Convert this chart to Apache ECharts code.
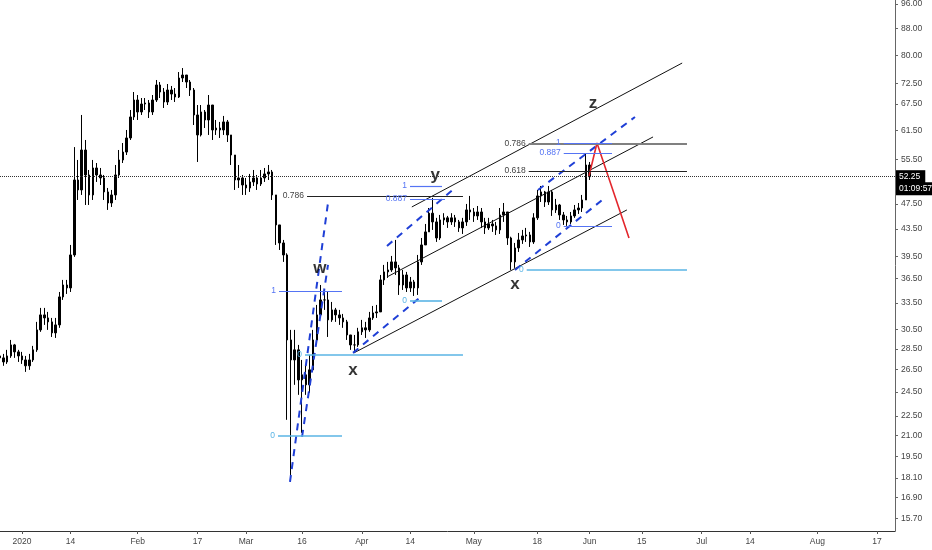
<!DOCTYPE html>
<html>
<head>
<meta charset="utf-8">
<title>chart</title>
<script src="https://cdn.jsdelivr.net/npm/echarts@6.0.0/dist/echarts.min.js"></script>
<style>
    html, body { margin: 0; padding: 0; background: #fff; }
    #chart { width: 932px; height: 550px; }
</style>
</head>
<body>
<div id="chart"></div>
<script>
// daily bars, the first one is 2019-12-26, open of a bar = close of the bar before
const firstDay = [2019, 11, 26]
const firstOpen = 27.80

const closes = [
    27.61, 27.22, 27.80, 28.90, 28.20, 27.80,
    27.41, 26.85, 27.41, 28.40, 30.47, 32.12, 31.78, 31.34, 30.15, 31.01,
    34.22, 35.69, 35.32, 39.67, 51.65, 49.87, 57.40, 52.57, 49.00, 53.88,
    52.57, 52.02, 49.52, 47.63, 49.00, 52.57, 55.42, 56.99, 59.88, 64.48,
    68.45, 65.62, 67.49, 67.73, 65.62, 68.45, 72.16, 70.40, 67.97, 70.90,
    69.90, 69.17, 73.96, 74.74, 72.92, 70.90, 64.93, 60.52, 65.62, 63.80,
    67.25, 61.59, 62.02, 61.59, 63.36, 60.52, 56.40, 51.65, 52.02, 50.75,
    50.22, 51.29, 52.02, 50.93, 52.02, 52.76, 53.13, 49.00, 44.09, 41.38,
    39.67, 29.41, 27.41, 28.40, 25.55, 26.01, 25.11, 26.47, 29.41, 32.12,
    33.86, 33.86, 31.56, 32.69, 32.12, 31.78, 31.34, 29.93, 28.90, 28.90,
    30.26, 30.69, 30.47, 31.78, 32.35, 32.46, 36.33, 37.37, 37.63, 38.71,
    37.90, 35.69, 36.97, 35.32, 36.07, 35.32, 38.71, 41.09, 43.02, 45.95,
    44.56, 42.11, 44.87, 45.20, 44.56, 45.20, 44.56, 43.63, 44.56, 46.48,
    46.15, 45.51, 46.15, 44.56, 43.63, 44.24, 43.94, 43.32, 45.67, 46.15,
    42.11, 38.71, 40.66, 41.82, 42.41, 42.56, 41.53, 45.20, 48.83, 49.52,
    47.80, 49.52, 46.48, 47.30, 45.67, 44.87, 44.56, 45.51, 46.48, 46.80,
    48.14, 54.45, 52.25
]

const highs = [
    28.40, 28.00, 28.40, 29.41, 29.00, 28.40,
    28.20, 27.80, 28.00, 28.80, 31.34, 32.92, 32.92, 32.46, 31.78, 31.78,
    34.82, 36.33, 36.33, 41.09, 57.99, 55.42, 64.93, 59.46, 53.50, 55.42,
    54.83, 53.88, 52.57, 50.22, 49.87, 54.45, 57.40, 58.83, 61.59, 66.08,
    70.40, 69.66, 68.93, 68.93, 68.45, 69.66, 73.44, 72.92, 71.40, 72.41,
    71.91, 71.40, 75.53, 76.60, 74.74, 73.44, 71.40, 67.25, 67.25, 66.08,
    69.66, 67.25, 63.80, 63.36, 64.71, 63.80, 60.52, 56.40, 54.45, 52.57,
    52.02, 52.76, 53.50, 52.57, 53.50, 53.88, 54.45, 53.50, 49.00, 44.09,
    41.82, 39.90, 30.47, 30.47, 28.90, 27.41, 26.94, 27.90, 30.47, 33.27,
    35.69, 35.07, 34.82, 33.62, 32.92, 32.69, 32.23, 31.56, 29.93, 29.93,
    30.69, 31.56, 31.34, 32.46, 33.15, 33.27, 36.97, 38.30, 38.71, 39.53,
    41.82, 38.30, 37.63, 37.37, 36.71, 36.33, 39.67, 42.11, 44.24, 46.80,
    48.49, 45.20, 45.67, 45.95, 45.51, 45.95, 45.67, 44.87, 45.20, 47.47,
    48.83, 46.80, 47.13, 46.80, 45.20, 45.20, 44.87, 44.56, 46.80, 47.63,
    46.15, 42.30, 41.38, 42.86, 43.32, 43.63, 43.02, 45.95, 49.87, 50.57,
    49.70, 50.57, 49.87, 48.32, 47.47, 46.15, 45.51, 46.15, 47.30, 47.63,
    49.00, 56.79, 55.03
]

const lows = [
    27.22, 26.85, 27.03, 27.61, 27.61, 27.22,
    27.03, 26.28, 26.47, 27.22, 28.20, 30.26, 31.01, 30.47, 29.72, 29.62,
    30.69, 33.86, 34.58, 34.82, 39.40, 48.14, 49.00, 47.30, 47.30, 48.14,
    51.29, 50.75, 48.14, 46.48, 46.97, 48.14, 52.02, 54.83, 56.40, 59.46,
    63.80, 63.80, 64.93, 66.08, 64.24, 64.93, 67.97, 68.93, 66.55, 67.25,
    68.45, 67.97, 68.93, 72.92, 71.40, 69.42, 62.68, 55.03, 60.20, 62.02,
    60.52, 59.46, 60.52, 59.88, 60.52, 59.04, 54.45, 49.87, 50.22, 49.00,
    49.00, 49.52, 50.57, 49.87, 50.57, 51.29, 51.65, 48.14, 41.09, 40.37,
    38.71, 22.20, 17.84, 25.11, 24.24, 21.21, 24.24, 24.41, 26.28, 28.90,
    31.78, 32.69, 29.72, 31.34, 31.34, 31.01, 30.69, 29.41, 28.40, 28.20,
    28.70, 29.93, 29.62, 30.26, 31.56, 31.78, 32.46, 35.69, 36.59, 37.37,
    36.97, 34.46, 35.07, 34.82, 34.82, 34.34, 34.46, 38.30, 41.09, 43.02,
    43.32, 41.53, 41.82, 44.09, 43.63, 44.09, 43.78, 43.02, 42.71, 43.94,
    44.87, 44.56, 44.87, 43.63, 42.71, 43.32, 43.02, 42.56, 42.71, 44.56,
    41.09, 37.63, 37.90, 40.09, 41.24, 41.53, 40.80, 41.24, 44.87, 47.80,
    46.97, 47.30, 45.51, 45.99, 44.87, 44.09, 43.94, 44.24, 45.20, 45.83,
    46.15, 48.14, 51.65
]

const priceTicks = [96, 88, 80, 72.5, 67.5, 61.5, 55.5, 47.5, 43.5, 39.5, 36.5, 33.5,
    30.5, 28.5, 26.5, 24.5, 22.5, 21, 19.5, 18.1, 16.9, 15.7]
const dateTicks = ['2020-01-01', '2020-01-14', '2020-02-01', '2020-02-17', '2020-03-01',
    '2020-03-16', '2020-04-01', '2020-04-14', '2020-05-01', '2020-05-18', '2020-06-01',
    '2020-06-15', '2020-07-01', '2020-07-14', '2020-08-01', '2020-08-17']
const monthNames = ['Jan', 'Feb', 'Mar', 'Apr', 'May', 'Jun', 'Jul', 'Aug', 'Sep', 'Oct', 'Nov', 'Dec']

const lastPrice = 52.25
const countdown = '01:09:57'

// drawings
const channelLines = [
    [['2020-03-29 21:36', 28.10], ['2020-06-11 00:00', 46.48]],
    [['2020-04-07 18:00', 36.71], ['2020-06-18 00:00', 60.10]],
    [['2020-04-14 09:36', 46.97], ['2020-06-25 19:12', 77.96]]
]
const blueDashed = [
    [['2020-03-12 18:30', 17.84], ['2020-03-22 22:48', 47.63]],
    [['2020-03-16 00:00', 20.91], ['2020-03-22 22:48', 38.30]],
    [['2020-03-29 15:30', 28.10], ['2020-04-17 09:20', 34.46]],
    [['2020-04-07 18:00', 40.95], ['2020-04-25 23:00', 50.22]],
    [['2020-05-12 00:45', 37.63], ['2020-06-05 09:36', 48.66]],
    [['2020-05-18 04:30', 49.87], ['2020-06-13 04:00', 64.48]]
]
const redPath = [['2020-05-31 20:24', 52.39], ['2020-06-02 23:45', 58.83], ['2020-06-11 13:30', 42.11]]

// [from, to, price, text, kind]
const fibLevels = [
    ['2020-03-09 20:00', '2020-03-26 16:48', 34.95, '1', 'one'],
    ['2020-03-09 13:30', '2020-03-26 16:48', 20.99, '0', 'zero'],
    ['2020-03-16 19:00', '2020-04-28 02:24', 27.90, '0', 'zero'],
    ['2020-03-17 08:00', '2020-04-28 02:24', 48.83, '0.786', 'level'],
    ['2020-04-13 22:00', '2020-04-22 11:30', 50.57, '1', 'one'],
    ['2020-04-13 22:00', '2020-04-23 06:40', 48.31, '0.887', 'one'],
    ['2020-04-13 22:00', '2020-04-22 11:30', 33.74, '0', 'zero'],
    ['2020-05-15 17:00', '2020-06-27 02:10', 58.63, '0.786', 'levelGray'],
    ['2020-05-25 02:00', '2020-06-07 00:15', 58.83, '1', 'one'],
    ['2020-05-25 02:00', '2020-06-07 00:15', 56.80, '0.887', 'one'],
    ['2020-05-15 17:00', '2020-06-27 02:10', 53.31, '0.618', 'level'],
    ['2020-05-25 02:00', '2020-06-07 00:15', 43.94, '0', 'one'],
    ['2020-05-15 04:00', '2020-06-27 02:10', 37.63, '0', 'zero']
]

const waveLabels = [
    ['2020-03-20 18:40', 37.90, 'w'],
    ['2020-03-29 15:30', 26.47, 'x'],
    ['2020-04-20 16:00', 52.57, 'y'],
    ['2020-05-12 00:45', 35.82, 'x'],
    ['2020-06-01 22:00', 67.73, 'z']
]

const fibStyle = {
    one: { color: '#5574f4', width: 1.2 },
    zero: { color: '#5ab4e5', width: 1.6 },
    level: { color: '#222', width: 1 },
    levelGray: { color: '#808080', width: 2 }
}

const FONT = 'Liberation Sans'

// local time, 'YYYY-MM-DD' or 'YYYY-MM-DD HH:mm'
const T = s => {
    const [d, h = '00:00'] = s.split(' ')
    const [y, m, dd] = d.split('-').map(Number)
    const [hh, mm] = h.split(':').map(Number)
    return new Date(y, m - 1, dd, hh, mm).getTime()
}

const candles = closes.map((c, i) => {
    const day = new Date(firstDay[0], firstDay[1], firstDay[2] + i).getTime()
    const open = i === 0 ? firstOpen : closes[i - 1]
    return [day, open, c, lows[i], highs[i]]
})

const segSeries = (seg, style) => ({
    type: 'line',
    data: seg.map(([s, p]) => [T(s), p]),
    showSymbol: false,
    symbol: 'none',
    silent: true,
    lineStyle: style,
    z: 3
})

const chart = echarts.init(document.getElementById('chart'))

chart.setOption({
    animation: false,
    backgroundColor: '#fff',
    grid: { left: 0, right: 37, top: 0, bottom: 19, outerBoundsMode: 'none' },
    xAxis: {
        // timestamps on a plain value axis so the custom ticks can be used
        type: 'value',
        min: T('2019-12-26 02:40'),
        max: T('2020-08-21 19:10'),
        splitLine: { show: false },
        axisLine: { lineStyle: { color: '#333', width: 1 } },
        axisTick: {
            customValues: dateTicks.map(d => T(d)),
            length: 3,
            lineStyle: { color: '#555' }
        },
        axisLabel: {
            customValues: dateTicks.map(d => T(d)),
            margin: 6,
            fontSize: 8.5,
            fontFamily: FONT,
            color: '#444',
            formatter: v => {
                const d = new Date(v)
                if (d.getDate() === 1) {
                    return d.getMonth() === 0 ? String(d.getFullYear()) : monthNames[d.getMonth()]
                }
                return String(d.getDate())
            }
        }
    },
    yAxis: {
        type: 'log',
        position: 'right',
        min: 15.01,
        max: 97.33,
        splitLine: { show: false },
        axisLine: { show: true, lineStyle: { color: '#666', width: 1 } },
        axisTick: {
            show: true,
            customValues: priceTicks,
            length: 3,
            lineStyle: { color: '#666' }
        },
        axisLabel: {
            customValues: priceTicks,
            margin: 6,
            fontSize: 8.5,
            fontFamily: FONT,
            color: '#444',
            formatter: v => Number(v).toFixed(2)
        }
    },
    series: [
        {
            type: 'candlestick',
            data: candles,
            encode: { x: 0, y: [1, 2, 3, 4] },
            barWidth: 2,
            silent: true,
            itemStyle: {
                color: '#000',
                color0: '#000',
                borderColor: '#000',
                borderColor0: '#000',
                borderWidth: 1
            },
            markLine: {
                silent: true,
                symbol: ['none', 'none'],
                lineStyle: { type: 'dotted', color: '#333', width: 1 },
                label: {
                    show: true,
                    position: 'end',
                    distance: 1,
                    offset: [0, 6],
                    formatter: '{p|' + lastPrice.toFixed(2) + '}\n{t|' + countdown + '}',
                    rich: {
                        p: { backgroundColor: '#000', color: '#fff', fontSize: 8.5, fontFamily: FONT,
                            padding: [2, 5, 2, 3], lineHeight: 12 },
                        t: { backgroundColor: '#000', color: '#fff', fontSize: 8.5, fontFamily: FONT,
                            padding: [2, 3, 2, 3], lineHeight: 12 }
                    }
                },
                data: [{ yAxis: lastPrice }]
            }
        },
        {
            type: 'line',
            name: 'fib',
            data: [],
            silent: true,
            z: 3,
            markLine: {
                silent: true,
                symbol: ['none', 'none'],
                label: { show: true, position: 'start', distance: 3, fontSize: 8.5, fontFamily: FONT },
                data: fibLevels.map(([a, b, p, text, kind]) => [
                    {
                        coord: [T(a), p],
                        lineStyle: { type: 'solid', color: fibStyle[kind].color, width: fibStyle[kind].width },
                        label: {
                            formatter: text,
                            color: kind === 'level' || kind === 'levelGray' ? '#444' : fibStyle[kind].color
                        }
                    },
                    { coord: [T(b), p] }
                ])
            }
        },
        ...channelLines.map(seg => segSeries(seg, { color: '#111', width: 1 })),
        ...blueDashed.map(seg => segSeries(seg, { color: '#1f3fd6', width: 2, type: [7, 6] })),
        segSeries(redPath, { color: '#e3262c', width: 1.6 }),
        {
            type: 'scatter',
            data: waveLabels.map(([s, p, txt]) => [T(s), p, txt]),
            symbolSize: 1,
            silent: true,
            z: 4,
            itemStyle: { color: 'rgba(0,0,0,0)' },
            label: {
                show: true,
                position: 'inside',
                formatter: p => p.data[2],
                fontSize: 17,
                fontWeight: 'bold',
                fontFamily: FONT,
                color: '#000'
            }
        }
    ]
})
</script>
</body>
</html>
